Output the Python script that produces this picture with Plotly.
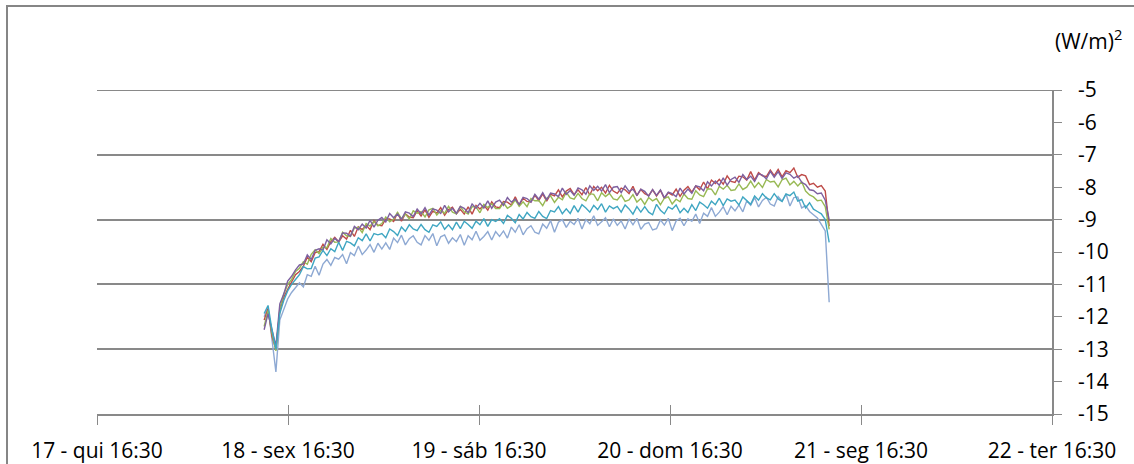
import pandas as pd
import plotly.graph_objects as go

# Sample timestamps (regular logger interval)
start_time = "2012-05-18 13:30"
n_points = 145
sample_step = "1775s"

# Tick labels (day - weekday 16:30)
tick_times = ["2012-05-17 16:30", "2012-05-18 16:30", "2012-05-19 16:30",
              "2012-05-20 16:30", "2012-05-21 16:30", "2012-05-22 16:30"]
tick_labels = ["17 - qui 16:30", "18 - sex 16:30", "19 - sáb 16:30",
               "20 - dom 16:30", "21 - seg 16:30", "22 - ter 16:30"]
y_ticks = [-5, -6, -7, -8, -9, -10, -11, -12, -13, -14, -15]
y_grid = [-5, -7, -9, -11, -13]

s_lightblue = [
    -12.0, -11.7, -12.7, -13.7, -12.1, -11.75, -11.45, -11.25, -11.1, -10.95,
    -11.08, -10.70, -10.75, -10.44, -10.72, -10.37, -10.23, -10.41, -10.17, -10.22,
    -10.08, -10.36, -10.02, -10.11, -9.82, -10.08, -9.94, -9.77, -10.01, -9.73,
    -9.91, -9.72, -9.92, -9.57, -9.71, -9.48, -9.78, -9.59, -9.50, -9.70,
    -9.78, -9.49, -9.64, -9.43, -9.81, -9.53, -9.47, -9.73, -9.56, -9.68,
    -9.46, -9.79, -9.50, -9.62, -9.36, -9.64, -9.52, -9.37, -9.63, -9.37,
    -9.52, -9.35, -9.57, -9.23, -9.39, -9.16, -9.47, -9.28, -9.19, -9.39,
    -9.44, -9.14, -9.27, -9.03, -9.39, -9.08, -9.00, -9.24, -9.05, -9.15,
    -8.96, -9.29, -9.00, -9.13, -8.88, -9.18, -9.07, -8.94, -9.22, -8.98,
    -9.18, -9.04, -9.29, -8.98, -9.16, -8.96, -9.30, -9.14, -9.09, -9.32,
    -9.28, -9.01, -9.17, -8.96, -9.34, -9.04, -8.96, -9.19, -8.97, -9.05,
    -8.83, -9.12, -8.80, -8.90, -8.63, -8.90, -8.77, -8.60, -8.85, -8.59,
    -8.73, -8.55, -8.76, -8.42, -8.56, -8.32, -8.61, -8.41, -8.31, -8.52,
    -8.58, -8.29, -8.43, -8.21, -8.58, -8.32, -8.30, -8.64, -8.57, -8.75,
    -8.85, -8.95, -9.15, -9.35, -11.55]

s_red = [
    -12.1, -11.75, -12.6, -13.0, -11.8, -11.4, -11.15, -10.9, -10.7, -10.6,
    -10.44, -10.16, -10.30, -10.02, -9.99, -9.76, -9.92, -9.68, -9.55, -9.69,
    -9.50, -9.60, -9.33, -9.52, -9.22, -9.31, -9.17, -9.31, -9.03, -9.17,
    -9.19, -8.98, -8.98, -9.06, -8.79, -9.05, -8.82, -8.92, -8.94, -8.73,
    -8.89, -8.70, -8.93, -8.74, -8.80, -8.63, -8.86, -8.69, -8.62, -8.82,
    -8.68, -8.83, -8.61, -8.83, -8.56, -8.67, -8.55, -8.71, -8.45, -8.61,
    -8.63, -8.44, -8.46, -8.55, -8.30, -8.56, -8.34, -8.44, -8.46, -8.25,
    -8.41, -8.21, -8.43, -8.22, -8.27, -8.08, -8.30, -8.12, -8.04, -8.23,
    -8.08, -8.23, -8.01, -8.24, -7.98, -8.11, -8.00, -8.18, -7.94, -8.12,
    -8.19, -8.03, -8.08, -8.20, -7.97, -8.26, -8.07, -8.20, -8.26, -8.08,
    -8.27, -8.10, -8.35, -8.17, -8.24, -8.06, -8.28, -8.09, -7.98, -8.15,
    -7.96, -8.08, -7.84, -8.05, -7.78, -7.89, -7.76, -7.91, -7.65, -7.82,
    -7.85, -7.66, -7.68, -7.78, -7.52, -7.78, -7.55, -7.65, -7.67, -7.47,
    -7.64, -7.45, -7.68, -7.49, -7.55, -7.41, -7.69, -7.61, -7.65, -7.92,
    -7.88, -8.0, -7.95, -8.12, -9.2]

s_green = [
    -12.3, -11.8, -12.5, -13.05, -11.75, -11.3, -11.0, -10.85, -10.6, -10.5,
    -10.30, -10.38, -10.07, -9.93, -10.05, -9.85, -9.87, -9.58, -9.70, -9.69,
    -9.39, -9.50, -9.52, -9.26, -9.24, -9.40, -9.12, -9.20, -9.06, -9.19,
    -9.12, -8.92, -9.07, -8.98, -8.78, -8.98, -8.83, -8.98, -8.73, -8.80,
    -8.75, -8.92, -8.70, -8.65, -8.86, -8.72, -8.81, -8.59, -8.77, -8.82,
    -8.60, -8.76, -8.83, -8.60, -8.61, -8.79, -8.53, -8.63, -8.51, -8.66,
    -8.66, -8.48, -8.65, -8.57, -8.39, -8.59, -8.45, -8.60, -8.35, -8.42,
    -8.41, -8.57, -8.34, -8.27, -8.47, -8.31, -8.39, -8.16, -8.33, -8.37,
    -8.19, -8.35, -8.42, -8.20, -8.22, -8.42, -8.17, -8.29, -8.19, -8.36,
    -8.39, -8.24, -8.44, -8.39, -8.23, -8.46, -8.35, -8.53, -8.32, -8.42,
    -8.35, -8.54, -8.34, -8.30, -8.52, -8.37, -8.45, -8.21, -8.35, -8.37,
    -8.11, -8.24, -8.29, -8.05, -8.06, -8.24, -7.97, -8.06, -7.94, -8.10,
    -8.08, -7.90, -8.07, -8.00, -7.81, -8.01, -7.86, -8.01, -7.76, -7.84,
    -7.82, -7.99, -7.77, -7.72, -7.93, -7.82, -7.96, -7.83, -8.12, -8.24,
    -8.3, -8.42, -8.4, -8.6, -9.3]

s_purple = [
    -12.4, -11.9, -12.4, -12.9, -11.6, -11.3, -10.9, -10.75, -10.55, -10.4,
    -10.37, -10.09, -10.23, -9.95, -9.90, -9.94, -9.62, -9.75, -9.58, -9.68,
    -9.41, -9.42, -9.51, -9.21, -9.31, -9.14, -9.26, -9.02, -9.23, -9.02,
    -8.93, -9.07, -8.81, -8.94, -8.83, -8.99, -8.76, -8.80, -8.91, -8.67,
    -8.82, -8.63, -8.86, -8.67, -8.71, -8.81, -8.56, -8.76, -8.65, -8.81,
    -8.59, -8.65, -8.79, -8.52, -8.65, -8.50, -8.64, -8.42, -8.65, -8.46,
    -8.40, -8.56, -8.32, -8.46, -8.37, -8.53, -8.31, -8.35, -8.46, -8.22,
    -8.37, -8.17, -8.39, -8.18, -8.21, -8.29, -8.03, -8.22, -8.10, -8.25,
    -8.02, -8.08, -8.22, -7.96, -8.10, -7.97, -8.12, -7.92, -8.17, -8.00,
    -7.98, -8.17, -7.96, -8.13, -8.06, -8.25, -8.06, -8.13, -8.28, -8.07,
    -8.25, -8.08, -8.33, -8.15, -8.20, -8.29, -8.03, -8.21, -8.06, -8.19,
    -7.96, -7.99, -8.11, -7.83, -7.96, -7.81, -7.94, -7.71, -7.94, -7.76,
    -7.69, -7.85, -7.61, -7.76, -7.66, -7.82, -7.59, -7.63, -7.74, -7.51,
    -7.69, -7.52, -7.73, -7.56, -7.60, -7.72, -7.65, -7.85, -7.92, -8.08,
    -8.1, -8.2, -8.18, -8.4, -9.0]

s_teal = [
    -11.9, -11.65, -12.4, -13.0, -11.9, -11.5, -11.2, -11.0, -10.85, -10.7,
    -10.45, -10.52, -10.51, -10.19, -10.15, -9.95, -10.11, -9.90, -9.99, -9.70,
    -9.95, -9.67, -9.72, -9.81, -9.56, -9.65, -9.44, -9.66, -9.43, -9.47,
    -9.43, -9.56, -9.29, -9.37, -9.49, -9.23, -9.36, -9.16, -9.29, -9.34,
    -9.15, -9.31, -9.39, -9.16, -9.21, -9.07, -9.30, -9.16, -9.31, -9.08,
    -9.28, -9.05, -9.15, -9.27, -9.05, -9.16, -8.97, -9.21, -9.00, -9.06,
    -8.97, -9.12, -8.87, -8.96, -9.10, -8.84, -8.98, -8.78, -8.91, -8.96,
    -8.75, -8.90, -8.97, -8.72, -8.76, -8.60, -8.82, -8.67, -8.81, -8.57,
    -8.77, -8.54, -8.64, -8.77, -8.56, -8.69, -8.51, -8.77, -8.58, -8.66,
    -8.59, -8.77, -8.55, -8.67, -8.83, -8.60, -8.77, -8.60, -8.77, -8.85,
    -8.53, -8.71, -8.82, -8.61, -8.68, -8.55, -8.79, -8.65, -8.78, -8.54,
    -8.72, -8.46, -8.54, -8.65, -8.43, -8.54, -8.34, -8.57, -8.36, -8.43,
    -8.40, -8.55, -8.30, -8.40, -8.53, -8.27, -8.40, -8.20, -8.33, -8.39,
    -8.20, -8.36, -8.44, -8.21, -8.26, -8.15, -8.43, -8.38, -8.64, -8.48,
    -8.68, -8.75, -8.82, -9.0, -9.7]

series = [
    ("s1", s_lightblue, "#8EA9D3"),
    ("s2", s_red, "#BE4B48"),
    ("s3", s_green, "#98B954"),
    ("s4", s_purple, "#7D60A0"),
    ("s5", s_teal, "#3FA6C2"),
]

times = pd.date_range(start=start_time, periods=n_points, freq=sample_step)

FONT = "Open Sans"
FSIZE = 21
GRID = "#898989"

fig = go.Figure()
for name, vals, color in series:
    fig.add_trace(go.Scatter(x=times, y=vals, mode="lines", name=name,
                             line=dict(color=color, width=1.4),
                             showlegend=False, hoverinfo="skip"))

x_range = [tick_times[0], tick_times[-1]]
y_range = [-15, -5]

fig.update_layout(
    width=1134, height=464,
    margin=dict(l=97, r=82, t=90, b=50),
    paper_bgcolor="white", plot_bgcolor="white",
    font=dict(family=FONT, size=FSIZE, color="#000000"),
    xaxis=dict(type="date", range=x_range, tickvals=tick_times, ticktext=tick_labels,
               showgrid=False, zeroline=False, showline=True, linecolor=GRID, linewidth=1.5,
               ticks="outside", ticklen=9, tickwidth=1.2, tickcolor=GRID, automargin=False,
               ticklabelstandoff=8, tickfont=dict(family=FONT, size=FSIZE)),
    xaxis2=dict(type="date", range=x_range, tickvals=tick_times, overlaying="x",
                anchor="y", side="bottom", showticklabels=False, showgrid=False,
                zeroline=False, ticks="inside", ticklen=9, tickwidth=1.2, tickcolor=GRID,
                automargin=False),
    yaxis=dict(range=y_range, side="right", tickvals=y_ticks,
               ticktext=[str(v) for v in y_ticks], showgrid=False, zeroline=False,
               showline=True, linecolor=GRID, linewidth=1.5, automargin=False,
               ticks="outside", ticklen=8, tickwidth=1.2, tickcolor=GRID,
               ticklabelstandoff=12, tickfont=dict(family=FONT, size=FSIZE)),
    yaxis2=dict(range=y_range, overlaying="y", side="right", tickvals=y_grid,
                showticklabels=False, showgrid=True, gridcolor=GRID, gridwidth=1.8,
                zeroline=False, ticks="", automargin=False),
)

# invisible trace to activate the overlay axes
fig.add_trace(go.Scatter(x=[tick_times[0]], y=[-15], xaxis="x2", yaxis="y2",
                         mode="markers", marker=dict(opacity=0), showlegend=False,
                         hoverinfo="skip"))

# top gridline (plotly skips the grid line at the range edge)
fig.add_hline(y=y_grid[0], line=dict(color=GRID, width=1.8), layer="below")

# unit label
fig.add_annotation(text="(W/m)<sup>2</sup>", xref="paper", yref="paper",
                   x=(1088 - 97) / 955, y=(414 - 40) / 324, showarrow=False,
                   xanchor="center", yanchor="middle",
                   font=dict(family=FONT, size=FSIZE, color="#000"))

# chart border (left and top edges visible; right/bottom run off the cropped picture)
fig.add_shape(type="rect", xref="paper", yref="paper",
              x0=(7 - 97) / 955, x1=(1145 - 97) / 955,
              y0=(414 - 475) / 324, y1=(414 - 6) / 324,
              line=dict(color="#868686", width=2), fillcolor="rgba(0,0,0,0)", layer="below")

fig.write_html("out.html")
